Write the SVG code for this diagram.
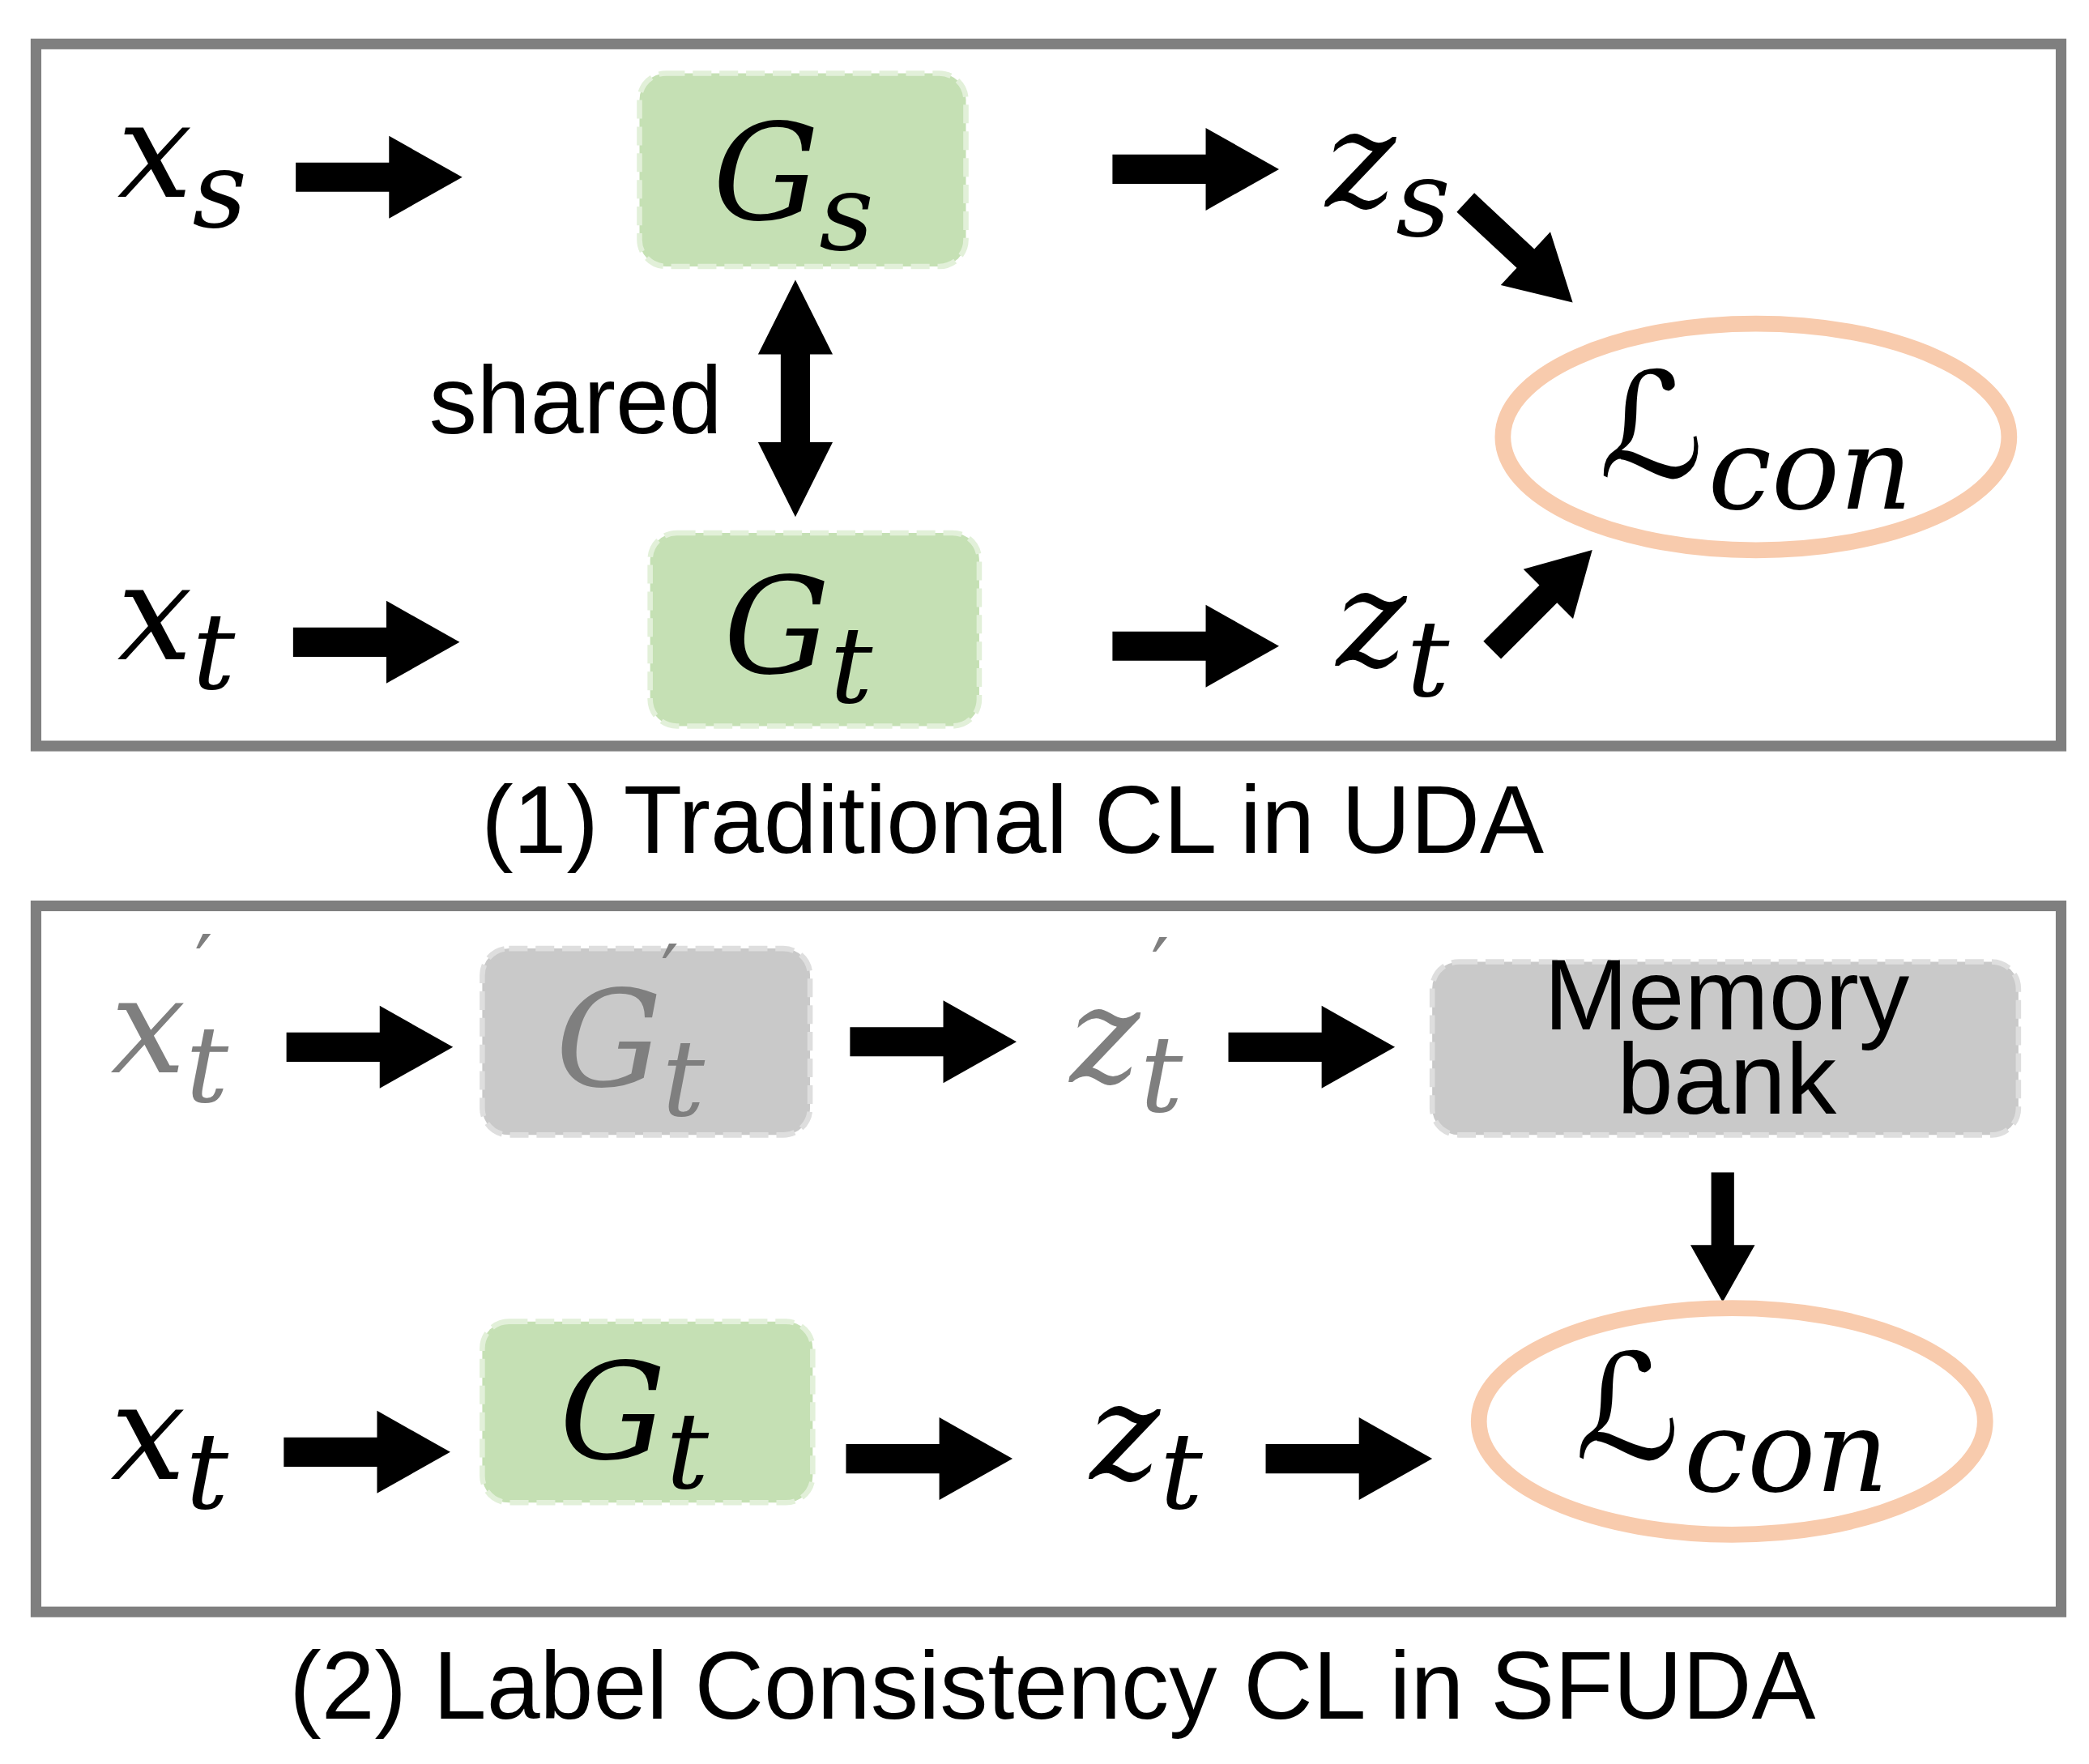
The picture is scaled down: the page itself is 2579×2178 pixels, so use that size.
<svg xmlns="http://www.w3.org/2000/svg" xmlns:xlink="http://www.w3.org/1999/xlink" width="2579" height="2178" viewBox="0 0 2579 2178">
<style>
.frame{fill:none;stroke:#7f7f7f;stroke-width:8}
.g{fill:#c5e0b4;stroke:#e2f0d9;stroke-width:4;stroke-dasharray:14 6}
.gr{fill:#c9c9c9;stroke:#dedede;stroke-width:4;stroke-dasharray:14 6}
.m{font-family:"DejaVu Serif",serif;font-style:italic;fill:#000}
.s{font-family:"Liberation Sans",Arial,sans-serif;fill:#000}
.el{fill:none;stroke:#f8cbad;stroke-width:12}
.gray{fill:#7f7f7f}
.pr{font-family:"DejaVu Sans",sans-serif;font-size:60px;fill:#7f7f7f}
</style>
<defs>
<path id="ha" d="M0,-11 H70 V-31 L125,0 L70,31 V11 H0 Z" fill="#000"/>
</defs>
<rect width="2579" height="2178" fill="#fff"/>
<g transform="scale(1.6448)">
<rect class="frame" x="27" y="33" width="1520" height="527"/>
<rect class="frame" x="27" y="680" width="1520" height="530"/>
<text class="s" x="760" y="640" font-size="72" text-anchor="middle">(1) Traditional CL in UDA</text>
<text class="s" x="790" y="1290" font-size="72" text-anchor="middle">(2) Label Consistency CL in SFUDA</text>

<g id="connectors">
<use xlink:href="#ha" x="222" y="133"/>
<use xlink:href="#ha" x="835" y="127"/>
<use xlink:href="#ha" transform="translate(1100,152) rotate(43) scale(0.88)"/>
<use xlink:href="#ha" x="220" y="482"/>
<use xlink:href="#ha" x="835" y="485"/>
<use xlink:href="#ha" transform="translate(1120,488) rotate(-45) scale(0.85)"/>
<path d="M597,210 L625,266 H608 V332 H625 L597,388 L569,332 H586 V266 H569 Z" fill="#000"/>
<use xlink:href="#ha" x="215" y="786"/>
<use xlink:href="#ha" x="638" y="782"/>
<use xlink:href="#ha" x="922" y="786"/>
<use xlink:href="#ha" transform="translate(1293,880) rotate(90) scale(0.78)"/>
<use xlink:href="#ha" x="213" y="1090"/>
<use xlink:href="#ha" x="635" y="1095"/>
<use xlink:href="#ha" x="950" y="1095"/>
</g>

<g id="xs"><text class="m" x="88" y="148" font-size="100">x<tspan font-size="80" dy="22">s</tspan></text></g>
<g id="Gs"><rect class="g" x="480" y="55" width="245" height="145" rx="20"/>
<text class="m" x="535" y="165" font-size="100">G<tspan font-size="80" dy="22">s</tspan></text></g>
<g id="zs"><text class="m" x="995" y="155" font-size="100">z<tspan font-size="80" dy="22">s</tspan></text></g>
<g id="shared"><text class="s" x="322" y="325" font-size="72">shared</text></g>
<g id="xt1"><text class="m" x="88" y="495" font-size="100">x<tspan font-size="80" dy="22">t</tspan></text></g>
<g id="Gt1"><rect class="g" x="488" y="400" width="247" height="145" rx="20"/>
<text class="m" x="543" y="505" font-size="100">G<tspan font-size="80" dy="22">t</tspan></text></g>
<g id="zt1"><text class="m" x="1003" y="500" font-size="100">z<tspan font-size="80" dy="22">t</tspan></text></g>
<g id="L1"><ellipse class="el" cx="1318" cy="328" rx="190" ry="85"/>
<text x="1200" y="358" font-size="110" font-family="DejaVu Sans, sans-serif">ℒ</text>
<text class="m" x="1282" y="382" font-size="85">con</text></g>

<g id="xtp"><text class="m gray" x="83" y="805" font-size="100">x<tspan font-size="80" dy="22">t</tspan></text><text class="pr" x="146" y="745">′</text></g>
<g id="Gtp"><rect class="gr" x="362" y="712" width="246" height="140" rx="20"/>
<text class="m gray" x="417" y="815" font-size="100">G<tspan font-size="80" dy="22">t</tspan></text><text class="pr" x="496" y="752">′</text></g>
<g id="ztp"><text class="m gray" x="803" y="812" font-size="100">z<tspan font-size="80" dy="22">t</tspan></text><text class="pr" x="864" y="747">′</text></g>
<g id="mem"><rect class="gr" x="1075" y="722" width="440" height="130" rx="20"/>
<text class="s" x="1296" y="773" font-size="76" text-anchor="middle">Memory</text>
<text class="s" x="1296" y="836" font-size="76" text-anchor="middle">bank</text></g>
<g id="xt2"><text class="m" x="83" y="1110" font-size="100">x<tspan font-size="80" dy="22">t</tspan></text></g>
<g id="Gt2"><rect class="g" x="362" y="992" width="248" height="136" rx="20"/>
<text class="m" x="420" y="1095" font-size="100">G<tspan font-size="80" dy="22">t</tspan></text></g>
<g id="zt2"><text class="m" x="818" y="1110" font-size="100">z<tspan font-size="80" dy="22">t</tspan></text></g>
<g id="L2"><ellipse class="el" cx="1300" cy="1067" rx="190" ry="85"/>
<text x="1182" y="1095" font-size="110" font-family="DejaVu Sans, sans-serif">ℒ</text>
<text class="m" x="1264" y="1119" font-size="85">con</text></g>
</g>
</svg>
